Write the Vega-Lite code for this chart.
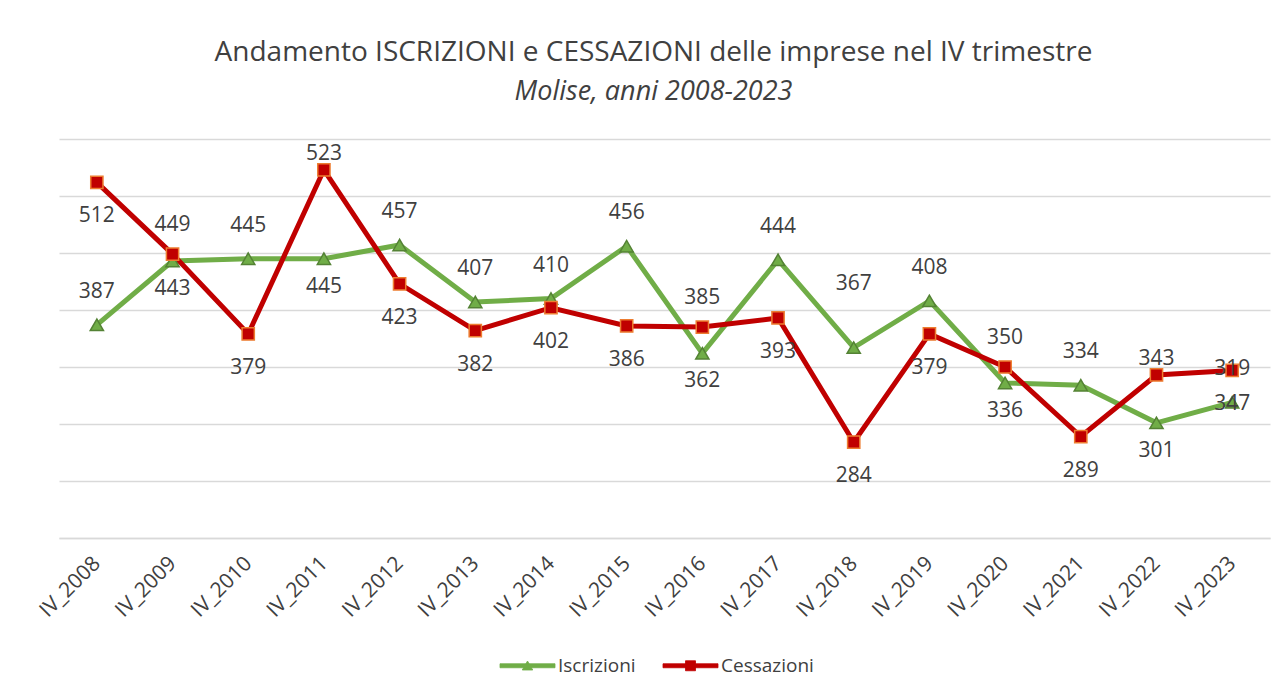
{
  "$schema": "https://vega.github.io/schema/vega-lite/v6.json",
  "width": 1211,
  "height": 399,
  "autosize": "none",
  "padding": {"left": 59, "top": 139, "right": 17, "bottom": 157},
  "background": "white",
  "config": {"font": "Open Sans", "view": {"stroke": null}},
  "title": {
    "text": "Andamento ISCRIZIONI e CESSAZIONI delle imprese nel IV trimestre",
    "subtitle": "Molise, anni 2008-2023",
    "fontSize": 28,
    "fontWeight": "normal",
    "color": "#404040",
    "subtitleFontSize": 27,
    "subtitleFontStyle": "italic",
    "subtitleColor": "#404040",
    "anchor": "middle",
    "offset": 34,
    "subtitlePadding": 12,
    "dx": -11
  },
  "data": {
    "values": [
      {"anno": "IV_2008", "serie": "Iscrizioni", "valore": 387},
      {"anno": "IV_2009", "serie": "Iscrizioni", "valore": 443},
      {"anno": "IV_2010", "serie": "Iscrizioni", "valore": 445},
      {"anno": "IV_2011", "serie": "Iscrizioni", "valore": 445},
      {"anno": "IV_2012", "serie": "Iscrizioni", "valore": 457},
      {"anno": "IV_2013", "serie": "Iscrizioni", "valore": 407},
      {"anno": "IV_2014", "serie": "Iscrizioni", "valore": 410},
      {"anno": "IV_2015", "serie": "Iscrizioni", "valore": 456},
      {"anno": "IV_2016", "serie": "Iscrizioni", "valore": 362},
      {"anno": "IV_2017", "serie": "Iscrizioni", "valore": 444},
      {"anno": "IV_2018", "serie": "Iscrizioni", "valore": 367},
      {"anno": "IV_2019", "serie": "Iscrizioni", "valore": 408},
      {"anno": "IV_2020", "serie": "Iscrizioni", "valore": 336},
      {"anno": "IV_2021", "serie": "Iscrizioni", "valore": 334},
      {"anno": "IV_2022", "serie": "Iscrizioni", "valore": 301},
      {"anno": "IV_2023", "serie": "Iscrizioni", "valore": 319},
      {"anno": "IV_2008", "serie": "Cessazioni", "valore": 512},
      {"anno": "IV_2009", "serie": "Cessazioni", "valore": 449},
      {"anno": "IV_2010", "serie": "Cessazioni", "valore": 379},
      {"anno": "IV_2011", "serie": "Cessazioni", "valore": 523},
      {"anno": "IV_2012", "serie": "Cessazioni", "valore": 423},
      {"anno": "IV_2013", "serie": "Cessazioni", "valore": 382},
      {"anno": "IV_2014", "serie": "Cessazioni", "valore": 402},
      {"anno": "IV_2015", "serie": "Cessazioni", "valore": 386},
      {"anno": "IV_2016", "serie": "Cessazioni", "valore": 385},
      {"anno": "IV_2017", "serie": "Cessazioni", "valore": 393},
      {"anno": "IV_2018", "serie": "Cessazioni", "valore": 284},
      {"anno": "IV_2019", "serie": "Cessazioni", "valore": 379},
      {"anno": "IV_2020", "serie": "Cessazioni", "valore": 350},
      {"anno": "IV_2021", "serie": "Cessazioni", "valore": 289},
      {"anno": "IV_2022", "serie": "Cessazioni", "valore": 343},
      {"anno": "IV_2023", "serie": "Cessazioni", "valore": 347}
    ]
  },
  "encoding": {
    "x": {
      "field": "anno",
      "type": "ordinal",
      "sort": null,
      "scale": {"type": "point", "padding": 0.5},
      "axis": {
        "title": null,
        "labelAngle": -45,
        "labelAlign": "right",
        "labelBaseline": "middle",
        "labelPadding": 22,
        "labelFontSize": 21,
        "labelColor": "#404040",
        "ticks": false,
        "domain": true,
        "domainColor": "#d9d9d9",
        "domainWidth": 1.5,
        "grid": false
      }
    },
    "y": {
      "field": "valore",
      "type": "quantitative",
      "scale": {"domain": [200, 550], "nice": false, "zero": false},
      "axis": {
        "title": null,
        "labels": false,
        "ticks": false,
        "domain": false,
        "grid": true,
        "gridColor": "#d9d9d9",
        "gridWidth": 1.5,
        "values": [200, 250, 300, 350, 400, 450, 500, 550]
      }
    }
  },
  "layer": [
    {
      "mark": {"type": "line", "strokeWidth": 5, "strokeJoin": "miter"},
      "encoding": {
        "color": {
          "field": "serie",
          "type": "nominal",
          "scale": {"domain": ["Iscrizioni", "Cessazioni"], "range": ["#70AD47", "#C00000"]},
          "legend": {
            "title": null,
            "orient": "none",
            "legendX": 459,
            "legendY": 517,
            "direction": "horizontal",
            "labelFontSize": 19,
            "labelColor": "#404040",
            "symbolSize": 100,
            "labelOffset": 21,
            "columnPadding": 25,
            "encode": {
              "symbols": {
                "update": {
                  "shape": {"signal": "datum.value === 'Iscrizioni' ? 'M-5.5,-0.4H5.5V0.4H-5.5Z M0,-0.95L1.05,0.85H-1.05Z' : 'M-5.5,-0.4H5.5V0.4H-5.5Z M-1,-1H1V1H-1Z'"},
                  "fill": {"signal": "datum.value === 'Iscrizioni' ? '#70AD47' : '#C00000'"},
                  "stroke": {"signal": "datum.value === 'Iscrizioni' ? '#548235' : '#ED7D31'"},
                  "strokeWidth": {"value": 0.8}
                }
              }
            }
          }
        }
      }
    },
    {
      "transform": [{"filter": "datum.serie === 'Iscrizioni'"}],
      "mark": {"type": "point", "shape": "triangle-up", "filled": true, "opacity": 1, "size": 175, "fill": "#70AD47", "stroke": "#548235", "strokeWidth": 1.5}
    },
    {
      "transform": [{"filter": "datum.serie === 'Cessazioni'"}],
      "mark": {"type": "point", "shape": "square", "filled": true, "opacity": 1, "size": 150, "fill": "#C00000", "stroke": "#ED7D31", "strokeWidth": 1.5}
    },
    {
      "transform": [{"filter": "datum.serie === 'Iscrizioni' && indexof(['IV_2009','IV_2011','IV_2016','IV_2020','IV_2022','IV_2018'], datum.anno) < 0"}],
      "mark": {"type": "text", "dy": -33, "fontSize": 21, "color": "#404040", "baseline": "middle"},
      "encoding": {"text": {"field": "valore", "type": "quantitative"}}
    },
    {
      "transform": [{"filter": "datum.serie === 'Iscrizioni' && datum.anno === 'IV_2018'"}],
      "mark": {"type": "text", "dy": -64, "fontSize": 21, "color": "#404040", "baseline": "middle"},
      "encoding": {"text": {"field": "valore", "type": "quantitative"}}
    },
    {
      "transform": [{"filter": "datum.serie === 'Iscrizioni' && indexof(['IV_2009','IV_2011','IV_2016','IV_2020','IV_2022'], datum.anno) >= 0"}],
      "mark": {"type": "text", "dy": 28, "fontSize": 21, "color": "#404040", "baseline": "middle"},
      "encoding": {"text": {"field": "valore", "type": "quantitative"}}
    },
    {
      "transform": [{"filter": "datum.serie === 'Cessazioni' && indexof(['IV_2009','IV_2016','IV_2020'], datum.anno) >= 0"}],
      "mark": {"type": "text", "dy": -29, "fontSize": 21, "color": "#404040", "baseline": "middle"},
      "encoding": {"text": {"field": "valore", "type": "quantitative"}}
    },
    {
      "transform": [{"filter": "datum.serie === 'Cessazioni' && indexof(['IV_2011','IV_2022'], datum.anno) >= 0"}],
      "mark": {"type": "text", "dy": -16, "fontSize": 21, "color": "#404040", "baseline": "middle"},
      "encoding": {"text": {"field": "valore", "type": "quantitative"}}
    },
    {
      "transform": [{"filter": "datum.serie === 'Cessazioni' && indexof(['IV_2009','IV_2011','IV_2016','IV_2020','IV_2022'], datum.anno) < 0"}],
      "mark": {"type": "text", "dy": 34, "fontSize": 21, "color": "#404040", "baseline": "middle"},
      "encoding": {"text": {"field": "valore", "type": "quantitative"}}
    }
  ]
}
